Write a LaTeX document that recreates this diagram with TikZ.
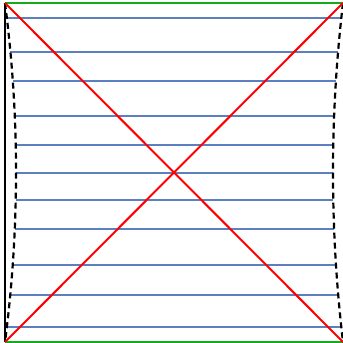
\documentclass[tikz,border=0pt]{standalone}
\begin{document}
\begin{tikzpicture}[x=1pt,y=-1pt,
  greenline/.style={draw={rgb,255:red,20;green,170;blue,30},line width=2pt},
  redline/.style={draw=red,line width=2pt},
  blueline/.style={draw={rgb,255:red,91;green,127;blue,191},line width=2.6pt},
  blackline/.style={draw=black,line width=2.2pt},
  dashline/.style={draw=black,line width=2.2pt,dash pattern=on 6pt off 4pt}]
\useasboundingbox (0,0) rectangle (343,343);
\coordinate (tl) at (5,3);
\coordinate (tr) at (343,3);
\coordinate (bl) at (5,342);
\coordinate (br) at (343,342);
% blue horizontal lines
\foreach \yy in {18,52,81,116,145,173,200,229,265,295,327}{
  \pgfmathsetmacro{\ff}{1-((\yy-172.5)/169.5)^2}
  \pgfmathsetmacro{\xl}{5+11*\ff}
  \pgfmathsetmacro{\xr}{343-10*\ff}
  \coordinate (L) at (\xl,\yy);
  \coordinate (M) at (174,\yy);
  \coordinate (R) at (\xr,\yy);
  \draw[blueline] (L) -- (M);
  \draw[blueline] (M) -- (R);
}
% green top and bottom
\draw[greenline] (tl) -- (tr);
\draw[greenline] (bl) -- (br);
% black vertical
\draw[blackline] (tl) -- (bl);
% dashed curves
\draw[dashline] (tl) .. controls (19.67,116) and (19.67,229) .. (bl);
\draw[dashline] (tr) .. controls (329.67,116) and (329.67,229) .. (br);
% red diagonals
\draw[redline] (tl) -- (br);
\draw[redline] (bl) -- (tr);
\end{tikzpicture}
\end{document}
